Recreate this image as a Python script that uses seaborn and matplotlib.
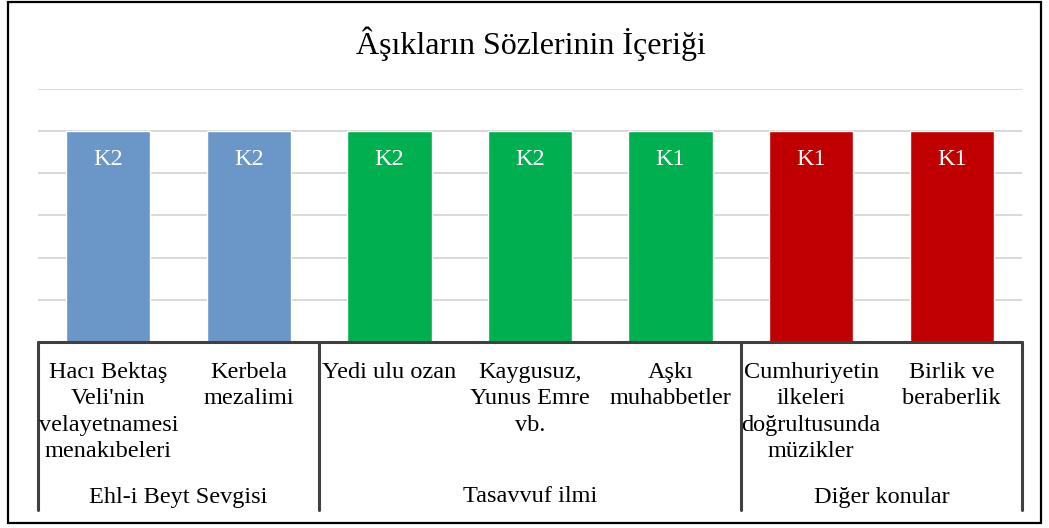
import matplotlib
matplotlib.use("Agg")
import matplotlib.pyplot as plt
import matplotlib.transforms as mtransforms
from matplotlib.lines import Line2D
from matplotlib.patches import Rectangle
import seaborn as sns
import pandas as pd

# ---- data ----
categories = ["Hacı Bektaş\nVeli'nin\nvelayetnamesi\nmenakıbeleri",
              "Kerbela\nmezalimi",
              "Yedi ulu ozan",
              "Kaygusuz,\nYunus Emre\nvb.",
              "Aşkı\nmuhabbetler",
              "Cumhuriyetin\nilkeleri\ndoğrultusunda\nmüzikler",
              "Birlik ve\nberaberlik"]
values = [1, 1, 1, 1, 1, 1, 1]
bar_labels = ["K2", "K2", "K2", "K2", "K1", "K1", "K1"]
groups = ["Ehl-i Beyt Sevgisi", "Tasavvuf ilmi", "Diğer konular"]
group_sizes = [2, 3, 2]
title = "Âşıkların Sözlerinin İçeriği"

group_colors = ["#6A96C8", "#00B050", "#C00000"]
bar_colors = []
for c, n in zip(group_colors, group_sizes):
    bar_colors += [c] * n

df = pd.DataFrame({"cat": categories, "val": values})

sns.set_style("white")
plt.rcParams["font.family"] = ["Liberation Serif", "DejaVu Serif"]

W, H = 1049, 528
fig = plt.figure(figsize=(W / 100, H / 100), dpi=100)
ax_left, ax_right, ax_top, ax_bottom = 38, 1022, 89, 342
ax = fig.add_axes([ax_left / W, 1 - ax_bottom / H, (ax_right - ax_left) / W, (ax_bottom - ax_top) / H])

sns.barplot(data=df, x="cat", y="val", hue="cat", palette=bar_colors,
            legend=False, width=0.6, ax=ax, saturation=1, zorder=2)
ax.set_xlim(-0.5, len(categories) - 0.5)
ax.set_ylim(0, 1.2)
ax.set_yticks([0.2, 0.4, 0.6, 0.8, 1.0, 1.2])
ax.yaxis.grid(True, color="#D5D5D5", linewidth=1.3, zorder=0)
ax.set_axisbelow(True)
ax.tick_params(left=False, labelleft=False, bottom=False, labelbottom=False)
for s in ax.spines.values():
    s.set_visible(False)
ax.set_xlabel("")
ax.set_ylabel("")

# bar labels
for i, (v, lab) in enumerate(zip(values, bar_labels)):
    ax.text(i, v - 0.135, lab, ha="center", va="center", color="white", fontsize=17.5)

# category axis
axh = ax_bottom - ax_top
def ay(px):
    return (ax_bottom - px) / axh

trans = mtransforms.blended_transform_factory(ax.transData, ax.transAxes)
axis_color = "#404040"
ax.add_line(Line2D([-0.5, len(categories) - 0.5], [0, 0], transform=trans,
                   color=axis_color, lw=2.2, clip_on=False, zorder=3))
bounds = [-0.5]
for n in group_sizes:
    bounds.append(bounds[-1] + n)
for b in bounds:
    ax.add_line(Line2D([b, b], [0, ay(510)], transform=trans, color=axis_color,
                       lw=2.2, clip_on=False, zorder=3))

for i, c in enumerate(categories):
    ax.text(i, ay(362), c, transform=trans, ha="center", va="top",
            multialignment="center", fontsize=17.5, linespacing=1.34, color="black")

for g, lo, hi in zip(groups, bounds[:-1], bounds[1:]):
    ax.text((lo + hi) / 2, ay(497), g, transform=trans, ha="center", va="center",
            fontsize=17.5, color="black")

# title
fig.text(531 / W, 1 - 44 / H, title, ha="center", va="center", fontsize=23, color="black")

# outer frame
fig.add_artist(Rectangle((8 / W, 1 - 523 / H), (1041 - 8) / W, (523 - 2) / H,
                         transform=fig.transFigure, fill=False, edgecolor="black", lw=1.6))

fig.savefig("out.png", dpi=100)
